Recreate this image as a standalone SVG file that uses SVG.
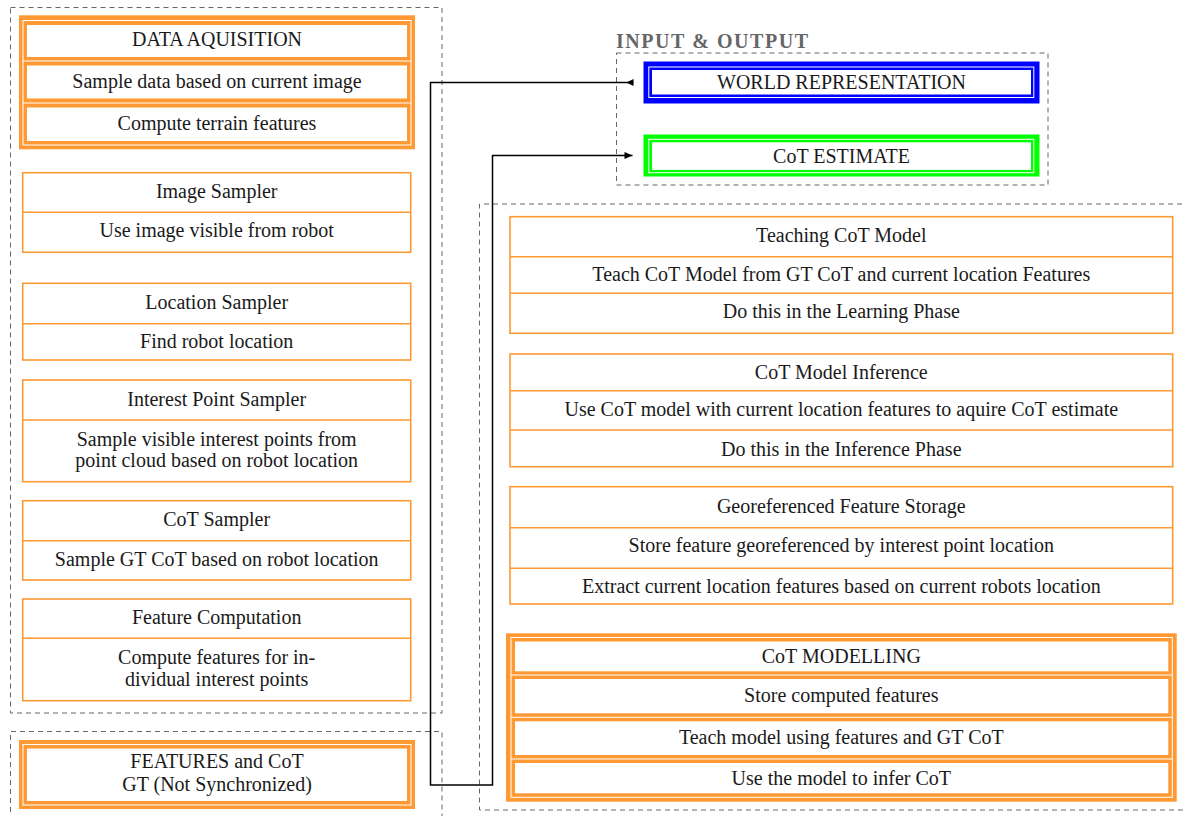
<svg xmlns="http://www.w3.org/2000/svg" width="1184" height="816" viewBox="0 0 1184 816">
<style>
.t{font-family:"Liberation Serif","DejaVu Serif",serif;font-size:20px;fill:#1a1a1a;text-anchor:middle}
.ttl{font-family:"Liberation Serif","DejaVu Serif",serif;font-size:20px;font-weight:bold;fill:#666}
.box{fill:#fff;stroke:#FF9933;stroke-width:1.6}
.div{stroke:#FF9933;stroke-width:1.6}
.dash{fill:none;stroke:#666;stroke-width:1;stroke-dasharray:5 4}
.og{fill:#FF9933}
.wl{fill:none;stroke:#fff;stroke-width:1}
.wd{stroke:#fff;stroke-width:1}
.in{fill:#fff}
.conn{fill:none;stroke:#000;stroke-width:1.5}
</style>
<defs>
<marker id="aS" markerUnits="userSpaceOnUse" viewBox="-1 -5 10 10" markerWidth="10" markerHeight="10" refX="0" refY="0" orient="auto"><path d="M0,-3.5 L7,0 L0,3.5 Z" fill="#000"/></marker>
<marker id="aE" markerUnits="userSpaceOnUse" viewBox="-9 -5 10 10" markerWidth="10" markerHeight="10" refX="0" refY="0" orient="auto"><path d="M-8,-3.5 L0,0 L-8,3.5 Z" fill="#000"/></marker>
</defs>
<rect width="1184" height="816" fill="#fff"/>

<g id="containers">
<rect class="dash" x="10.5" y="7.5" width="431.5" height="705.5"/>
<path class="dash" d="M10.5,830 V731.5 H442 V830"/>
<rect class="dash" x="616.5" y="53" width="431.5" height="132"/>
<path class="dash" d="M1200,204 H479.5 V810 H1200"/>
<text class="ttl" x="616" y="47.5" textLength="192" lengthAdjust="spacing">INPUT &amp; OUTPUT</text>
</g>

<g id="data-aquisition">
<rect class="og" x="19" y="15.3" width="396" height="134"/>
<rect class="wl" x="23" y="20.5" width="388" height="124.5"/>
<line class="wd" x1="23" y1="61" x2="411" y2="61"/>
<line class="wd" x1="23" y1="103" x2="411" y2="103"/>
<rect class="in" x="27" y="25" width="380" height="32"/>
<rect class="in" x="27" y="65.5" width="380" height="33"/>
<rect class="in" x="27" y="107.5" width="380" height="33.5"/>
<text class="t" x="217" y="45.5">DATA AQUISITION</text>
<text class="t" x="217" y="87.5">Sample data based on current image</text>
<text class="t" x="217" y="129.5">Compute terrain features</text>
</g>

<g id="image-sampler">
<rect class="box" x="22.7" y="172.7" width="388" height="79.6"/>
<line class="div" x1="22.7" y1="212.3" x2="410.7" y2="212.3"/>
<text class="t" x="216.7" y="197.5">Image Sampler</text>
<text class="t" x="216.7" y="237">Use image visible from robot</text>
</g>

<g id="location-sampler">
<rect class="box" x="22.7" y="283.3" width="388" height="76.7"/>
<line class="div" x1="22.7" y1="323.7" x2="410.7" y2="323.7"/>
<text class="t" x="216.7" y="308.5">Location Sampler</text>
<text class="t" x="216.7" y="347.5">Find robot location</text>
</g>

<g id="interest-point-sampler">
<rect class="box" x="22.7" y="380" width="388" height="101.7"/>
<line class="div" x1="22.7" y1="420" x2="410.7" y2="420"/>
<text class="t" x="216.7" y="406">Interest Point Sampler</text>
<text class="t" x="216.7" y="445.5">Sample visible interest points from</text>
<text class="t" x="216.7" y="467">point cloud based on robot location</text>
</g>

<g id="cot-sampler">
<rect class="box" x="22.7" y="500.7" width="388" height="79.3"/>
<line class="div" x1="22.7" y1="540.7" x2="410.7" y2="540.7"/>
<text class="t" x="216.7" y="525.5">CoT Sampler</text>
<text class="t" x="216.7" y="565.5">Sample GT CoT based on robot location</text>
</g>

<g id="feature-computation">
<rect class="box" x="22.7" y="599" width="388" height="101.7"/>
<line class="div" x1="22.7" y1="638.3" x2="410.7" y2="638.3"/>
<text class="t" x="216.7" y="623.5">Feature Computation</text>
<text class="t" x="216.7" y="663.5">Compute features for in-</text>
<text class="t" x="216.7" y="685.5">dividual interest points</text>
</g>

<g id="features-gt">
<rect class="og" x="19" y="740" width="396" height="69"/>
<rect class="wl" x="23" y="744.5" width="388" height="60.5"/>
<rect class="in" x="27" y="748.5" width="380" height="52.5"/>
<text class="t" x="217" y="768">FEATURES and CoT</text>
<text class="t" x="217" y="790.5">GT (Not Synchronized)</text>
</g>

<g id="world-representation">
<rect fill="#0000FF" x="643.5" y="61.5" width="396" height="42"/>
<rect class="wl" x="648.8" y="67" width="385" height="30.5"/>
<rect class="in" x="652" y="70" width="379" height="24.5"/>
<text class="t" x="841.5" y="89">WORLD REPRESENTATION</text>
</g>

<g id="cot-estimate">
<rect fill="#00FF00" x="643.5" y="134.5" width="396" height="42"/>
<rect class="wl" x="648.8" y="139.3" width="385" height="33.4"/>
<rect class="in" x="652" y="142.3" width="379" height="27.6"/>
<text class="t" x="841.5" y="162.5">CoT ESTIMATE</text>
</g>

<g id="teaching-cot-model">
<rect class="box" x="510" y="216.7" width="662.7" height="116.6"/>
<line class="div" x1="510" y1="256.7" x2="1172.7" y2="256.7"/>
<line class="div" x1="510" y1="293.3" x2="1172.7" y2="293.3"/>
<text class="t" x="841.3" y="241.5">Teaching CoT Model</text>
<text class="t" x="841.3" y="281">Teach CoT Model from GT CoT and current location Features</text>
<text class="t" x="841.3" y="318">Do this in the Learning Phase</text>
</g>

<g id="cot-model-inference">
<rect class="box" x="510" y="354" width="662.7" height="112.7"/>
<line class="div" x1="510" y1="390.7" x2="1172.7" y2="390.7"/>
<line class="div" x1="510" y1="430" x2="1172.7" y2="430"/>
<text class="t" x="841.3" y="379.3">CoT Model Inference</text>
<text class="t" x="841.3" y="415.5">Use CoT model with current location features to aquire CoT estimate</text>
<text class="t" x="841.3" y="455.5">Do this in the Inference Phase</text>
</g>

<g id="georeferenced-feature-storage">
<rect class="box" x="510" y="486.7" width="662.7" height="117.3"/>
<line class="div" x1="510" y1="527.7" x2="1172.7" y2="527.7"/>
<line class="div" x1="510" y1="568.3" x2="1172.7" y2="568.3"/>
<text class="t" x="841.3" y="512.5">Georeferenced Feature Storage</text>
<text class="t" x="841.3" y="552">Store feature georeferenced by interest point location</text>
<text class="t" x="841.3" y="592.5">Extract current location features based on current robots location</text>
</g>

<g id="cot-modelling">
<rect class="og" x="506" y="633.3" width="670.7" height="168.4"/>
<rect class="wl" x="511" y="637.5" width="661.3" height="159.8"/>
<line class="wd" x1="511" y1="675" x2="1172.3" y2="675"/>
<line class="wd" x1="511" y1="717.3" x2="1172.3" y2="717.3"/>
<line class="wd" x1="511" y1="759" x2="1172.3" y2="759"/>
<rect class="in" x="515" y="641.5" width="653.3" height="29.8"/>
<rect class="in" x="515" y="679" width="653.3" height="34.3"/>
<rect class="in" x="515" y="721.3" width="653.3" height="33.7"/>
<rect class="in" x="515" y="763" width="653.3" height="30.3"/>
<text class="t" x="841.3" y="663">CoT MODELLING</text>
<text class="t" x="841.3" y="702">Store computed features</text>
<text class="t" x="841.3" y="744">Teach model using features and GT CoT</text>
<text class="t" x="841.3" y="785">Use the model to infer CoT</text>
</g>

<g id="connectors">
<path class="conn" d="M633.5,82.5 H430.5 V785 H492.5 V155.5 H632.5" marker-start="url(#aS)" marker-end="url(#aE)"/>
</g>
</svg>
